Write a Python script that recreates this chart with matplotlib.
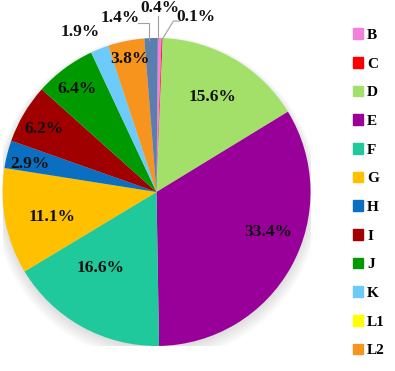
import numpy as np
import matplotlib.pyplot as plt
from matplotlib.patches import Circle

plt.rcParams['font.family'] = ['Liberation Serif', 'DejaVu Serif']
plt.rcParams['font.weight'] = 'bold'

categories = ['B', 'C', 'D', 'E', 'F', 'G', 'H', 'I', 'J', 'K', 'L1', 'L2', 'M']
shares = [0.4, 0.1, 15.6, 33.4, 16.6, 11.1, 2.9, 6.2, 6.4, 1.9, 0.0, 3.8, 1.4]
labels = ['0.4%', '0.1%', '15.6%', '33.4%', '16.6%', '11.1%', '2.9%', '6.2%',
          '6.4%', '1.9%', '', '3.8%', '1.4%']
colors = ['#F580DC', '#FF0000', '#A3E06A', '#990099', '#1FC99B', '#FFC000',
          '#0B6FC1', '#A00000', '#009A00', '#6CCBFA', '#FFFF00', '#F7941D', '#5A7EAE']

# label placement: radius fraction and angle nudge (deg) per slice
label_r = [None, None, 0.715, 0.77, 0.61, 0.70, 0.84, 0.84, 0.845, 1.15, None, 0.88, None]
label_da = [0, 0, 0, 9, -7.5, 2.4, 1.5, 1.4, 1, 4, 0, 0, 0]

fig = plt.figure(figsize=(3.95, 3.71), dpi=100)
ax = fig.add_axes([2.5 / 395, 25 / 371, 308 / 395, 308 / 371])

# soft shadow under the pie
for k in range(8):
    ax.add_patch(Circle((0.0, -0.015 - 0.004 * k), 1.0 + 0.008 * k,
                        color='#000000', alpha=0.014, lw=0, zorder=0))

wedges, _ = ax.pie(shares, colors=colors, startangle=89.5, counterclock=False,
                   radius=1.0, wedgeprops=dict(linewidth=0))
for w in wedges:
    w.set_zorder(2)

FS = 12.5
for w, lab, r, da in zip(wedges, labels, label_r, label_da):
    if lab == '' or r is None:
        continue
    ang = np.deg2rad((w.theta1 + w.theta2) / 2 + da)
    ax.text(r * np.cos(ang), r * np.sin(ang), lab, ha='center', va='center',
            fontsize=FS, fontweight='bold', color='#111111', zorder=5)

# leader-line labels for the thin slices at the top
def thin_label(idx, text_xy, line_pts):
    ax.text(text_xy[0], text_xy[1], labels[idx], ha='center', va='center',
            fontsize=FS, fontweight='bold', color='#111111', zorder=5)
    xs, ys = zip(*line_pts)
    ax.plot(xs, ys, color='#A0A0A0', lw=0.8, zorder=4, clip_on=False)

thin_label(12, (-0.237, 1.13), [(-0.12, 1.10), (-0.05, 1.10), (-0.05, 0.99)])
thin_label(0, (0.023, 1.195), [(0.012, 1.14), (0.012, 0.99)])
thin_label(1, (0.256, 1.136), [(0.15, 1.11), (0.11, 1.11), (0.036, 0.99)])

ax.set_xlim(-1, 1)
ax.set_ylim(-1, 1)
ax.set_aspect('equal')
ax.axis('off')

handles = [plt.Rectangle((0, 0), 1, 1, color=c) for c in colors]
fig.legend(handles, categories, loc='upper left', bbox_to_anchor=(0.877, 0.94),
           frameon=False, handlelength=0.7, handleheight=0.7,
           handletextpad=0.25, labelspacing=0.98, borderaxespad=0,
           prop={'weight': 'bold', 'size': 11})

fig.savefig('out.png', dpi=100)
